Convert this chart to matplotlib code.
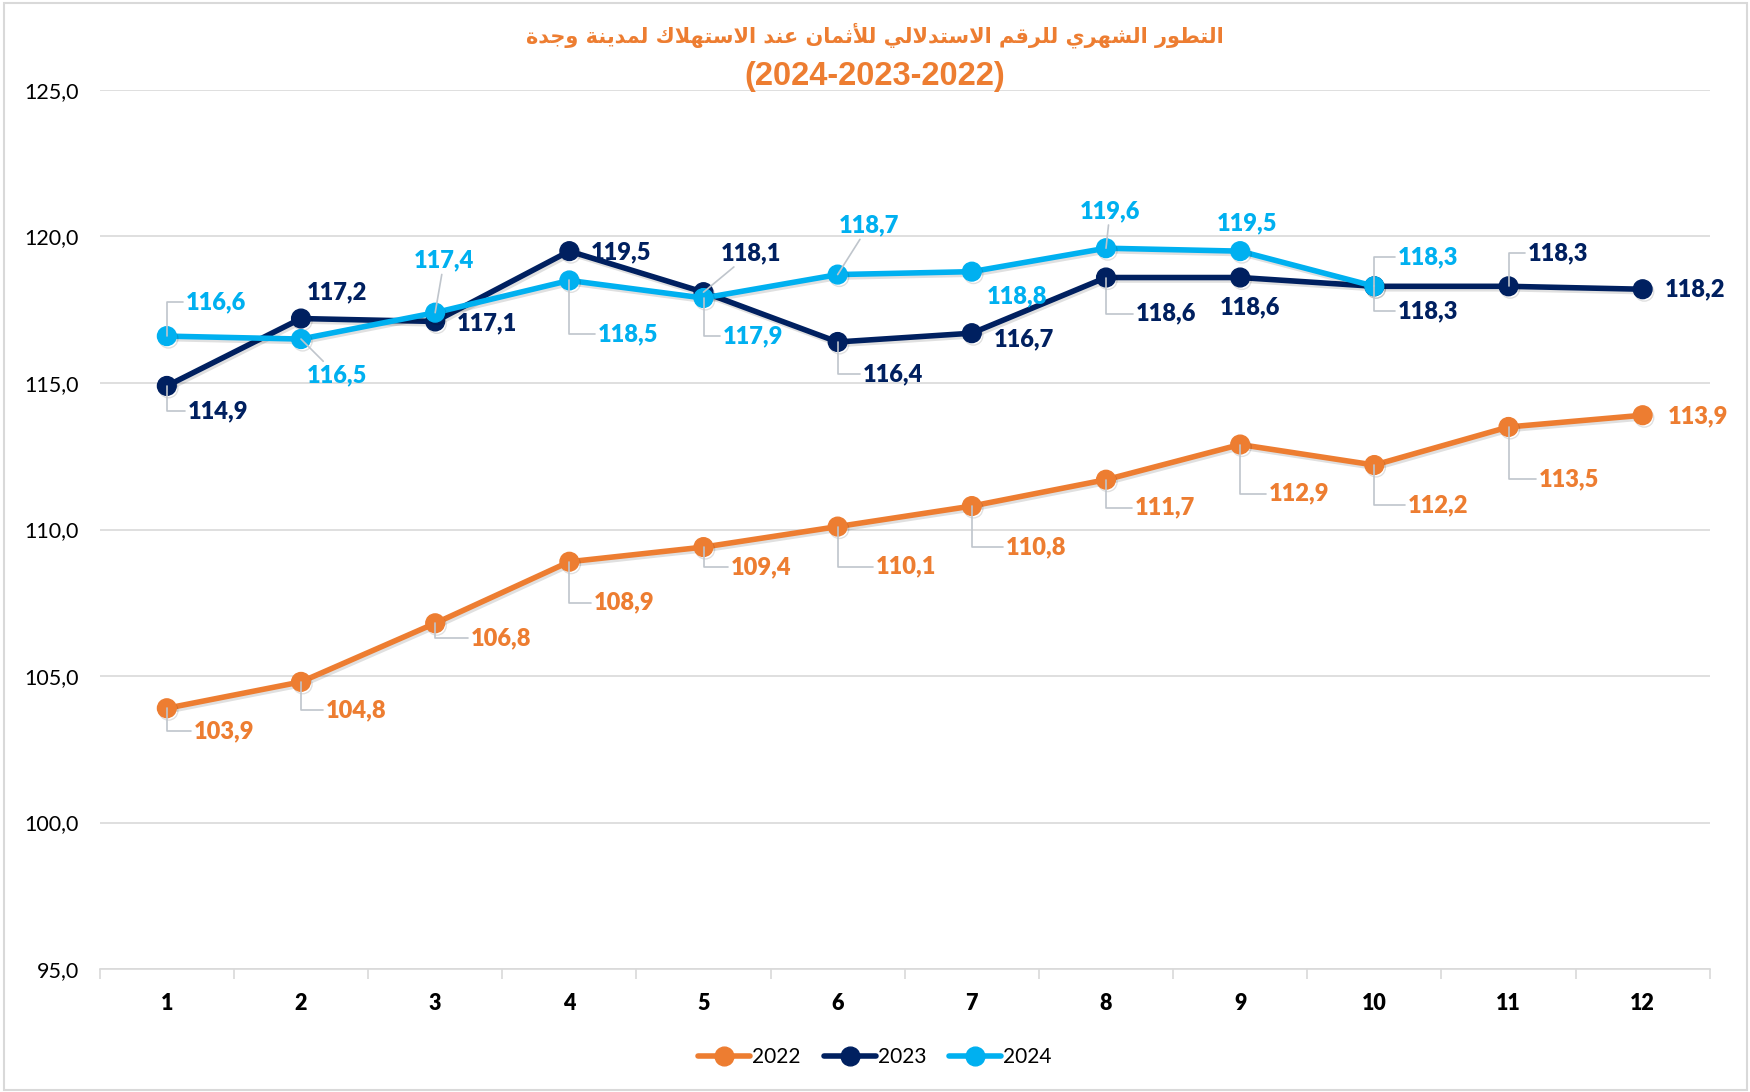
import matplotlib
matplotlib.use("Agg")
import matplotlib.pyplot as plt
import matplotlib.patheffects as pe
from matplotlib.patches import Rectangle
from matplotlib.ticker import FixedLocator, FuncFormatter

# ---------------- data ----------------
months = [1, 2, 3, 4, 5, 6, 7, 8, 9, 10, 11, 12]
v2022 = [103.9, 104.8, 106.8, 108.9, 109.4, 110.1, 110.8, 111.7, 112.9, 112.2, 113.5, 113.9]
v2023 = [114.9, 117.2, 117.1, 119.5, 118.1, 116.4, 116.7, 118.6, 118.6, 118.3, 118.3, 118.2]
v2024 = [116.6, 116.5, 117.4, 118.5, 117.9, 118.7, 118.8, 119.6, 119.5, 118.3]
series_names = ["2022", "2023", "2024"]
yticks = [95, 100, 105, 110, 115, 120, 125]
title_ar = "التطور الشهري للرقم الاستدلالي للأثمان عند الاستهلاك لمدينة وجدة"
title_years = "(2024-2023-2022)"

# label placement (offset in pixels, leader style)
lab2022 = [((57, -23), 'elbow'), ((55, -28), 'elbow'), ((66, -15), 'elbow'), ((55, -41), 'elbow'),
           ((58, -20), 'elbow'), ((68, -40), 'elbow'), ((64, -41), 'elbow'), ((59, -28), 'elbow'),
           ((59, -49), 'elbow'), ((64, -40), 'elbow'), ((60, -52), 'elbow'), ((55, -1), None)]
lab2023 = [((51, -25), 'elbow'), ((36, 26), None), ((52, -2), None), ((52, -1), None),
           ((47, 39), 'straight'), ((55, -32), 'elbow'), ((52, -6), None), ((60, -36), 'elbow'),
           ((10, -30), None), ((54, -25), 'elbow'), ((49, 33), 'elbow'), ((52, 0), None)]
lab2024 = [((49, 34), 'elbow'), ((36, -36), 'straight'), ((9, 52), 'straight'), ((59, -54), 'elbow'),
           ((49, -38), 'elbow'), ((31, 49), 'straight'), ((45, -25), None), ((4, 37), 'straight'),
           ((7, 28), None), ((54, 29), 'elbow')]

C2022, C2023, C2024 = "#ED7D31", "#002060", "#00B0F0"
LEADER = "#BFC5CC"

# ------------- Arabic shaping (presentation forms) -------------
FORMS = {
    'ا': (0xFE8D, 0xFE8E, None, None), 'أ': (0xFE83, 0xFE84, None, None),
    'ة': (0xFE93, 0xFE94, None, None), 'ت': (0xFE95, 0xFE96, 0xFE97, 0xFE98),
    'ث': (0xFE99, 0xFE9A, 0xFE9B, 0xFE9C), 'ج': (0xFE9D, 0xFE9E, 0xFE9F, 0xFEA0),
    'د': (0xFEA9, 0xFEAA, None, None), 'ر': (0xFEAD, 0xFEAE, None, None),
    'س': (0xFEB1, 0xFEB2, 0xFEB3, 0xFEB4), 'ش': (0xFEB5, 0xFEB6, 0xFEB7, 0xFEB8),
    'ط': (0xFEC1, 0xFEC2, 0xFEC3, 0xFEC4), 'ع': (0xFEC9, 0xFECA, 0xFECB, 0xFECC),
    'ق': (0xFED5, 0xFED6, 0xFED7, 0xFED8), 'ك': (0xFED9, 0xFEDA, 0xFEDB, 0xFEDC),
    'ل': (0xFEDD, 0xFEDE, 0xFEDF, 0xFEE0), 'م': (0xFEE1, 0xFEE2, 0xFEE3, 0xFEE4),
    'ن': (0xFEE5, 0xFEE6, 0xFEE7, 0xFEE8), 'ه': (0xFEE9, 0xFEEA, 0xFEEB, 0xFEEC),
    'و': (0xFEED, 0xFEEE, None, None), 'ي': (0xFEF1, 0xFEF2, 0xFEF3, 0xFEF4),
}
LAM_ALEF = {'ا': (0xFEFB, 0xFEFC, None, None), 'أ': (0xFEF7, 0xFEF8, None, None)}


def shape_arabic(text):
    tokens = []
    i = 0
    while i < len(text):
        c = text[i]
        if c == 'ل' and i + 1 < len(text) and text[i + 1] in LAM_ALEF:
            tokens.append(LAM_ALEF[text[i + 1]])
            i += 2
            continue
        tokens.append(FORMS.get(c, c))
        i += 1
    out = []
    for k, t in enumerate(tokens):
        if isinstance(t, str):
            out.append(t)
            continue
        prev = tokens[k - 1] if k > 0 else None
        nxt = tokens[k + 1] if k + 1 < len(tokens) else None
        jp = prev is not None and not isinstance(prev, str) and prev[2] is not None
        jn = t[2] is not None and nxt is not None and not isinstance(nxt, str)
        if jp and jn:
            cp = t[3]
        elif jp:
            cp = t[1]
        elif jn:
            cp = t[2]
        else:
            cp = t[0]
        out.append(chr(cp))
    return ''.join(reversed(out))


# ---------------- figure ----------------
plt.rcParams['font.family'] = ['Lato', 'DejaVu Sans']
fig = plt.figure(figsize=(17.5, 10.92), dpi=100)
fig.patches.append(Rectangle((0.002, 0.002), 0.996, 0.995, transform=fig.transFigure,
                             fill=False, edgecolor="#D9D9D9", linewidth=1.5))
ax = fig.add_axes([0.057, 0.1126, 0.92, 0.805])

shadow = [pe.SimpleLineShadow(offset=(1.2, -1.8), alpha=0.12, shadow_color='black'), pe.Normal()]


def draw_series(xs, ys, color, labels, name, z):
    ax.plot(xs, ys, color=color, lw=4, marker='o', ms=13.5, label=name, zorder=z,
            path_effects=shadow, solid_joinstyle='round', solid_capstyle='round')
    for x, y, ((dx, dy), style) in zip(xs, ys, labels):
        txt = f"{y:.1f}".replace('.', ',')
        kw = dict(xy=(x, y), xytext=(dx, dy), textcoords='offset pixels', ha='center', va='center',
                  fontsize=17, fontweight='heavy', color=color, zorder=z + 5)
        if style == 'elbow':
            kw['arrowprops'] = dict(arrowstyle='-', color=LEADER, lw=1.2, shrinkA=0, shrinkB=0,
                                    relpos=(0, 0.5),
                                    connectionstyle='angle,angleA=0,angleB=90,rad=0')
        elif style == 'straight':
            kw['arrowprops'] = dict(arrowstyle='-', color=LEADER, lw=1.2, shrinkA=0, shrinkB=0)
        ax.annotate(txt, **kw)


draw_series(months, v2022, C2022, lab2022, series_names[0], 3)
draw_series(months, v2023, C2023, lab2023, series_names[1], 4)
draw_series(months[:len(v2024)], v2024, C2024, lab2024, series_names[2], 5)

ax.set_xlim(0.5, 12.5)
ax.set_ylim(95, 125)
ax.yaxis.set_major_locator(FixedLocator(yticks))
ax.yaxis.set_major_formatter(FuncFormatter(lambda v, p: f"{v:.1f}".replace('.', ',')))
ax.set_xticks(months)
ax.set_xticks([m + 0.5 for m in [0] + months], minor=True)
ax.tick_params(axis='x', which='major', length=0, pad=17, labelsize=15.5)
ax.tick_params(axis='x', which='minor', length=7, color="#D9D9D9", width=1.2)
ax.tick_params(axis='y', length=0, pad=15, labelsize=15.5)
for lab in ax.get_xticklabels():
    lab.set_fontweight('heavy')
ax.grid(axis='y', color="#D9D9D9", lw=1.2)
ax.set_axisbelow(True)
for s in ['top', 'right', 'left']:
    ax.spines[s].set_visible(False)
ax.spines['bottom'].set_color("#D9D9D9")
ax.spines['bottom'].set_linewidth(1.2)

leg = fig.legend(loc='center', bbox_to_anchor=(0.5, 0.032), ncol=3, frameon=False,
                 fontsize=15, handlelength=2.5, columnspacing=1.1, handletextpad=0.1)
for h in leg.legend_handles:
    h.set_path_effects([])

fig.text(0.5, 0.968, shape_arabic(title_ar), ha='center', va='center', fontsize=15,
         fontweight='bold', color=C2022, family=['DejaVu Sans'])
fig.text(0.5, 0.930, title_years, ha='center', va='center', fontsize=23.5,
         fontweight='bold', color=C2022, family=['Liberation Sans'])

fig.savefig("out.png", dpi=100)
